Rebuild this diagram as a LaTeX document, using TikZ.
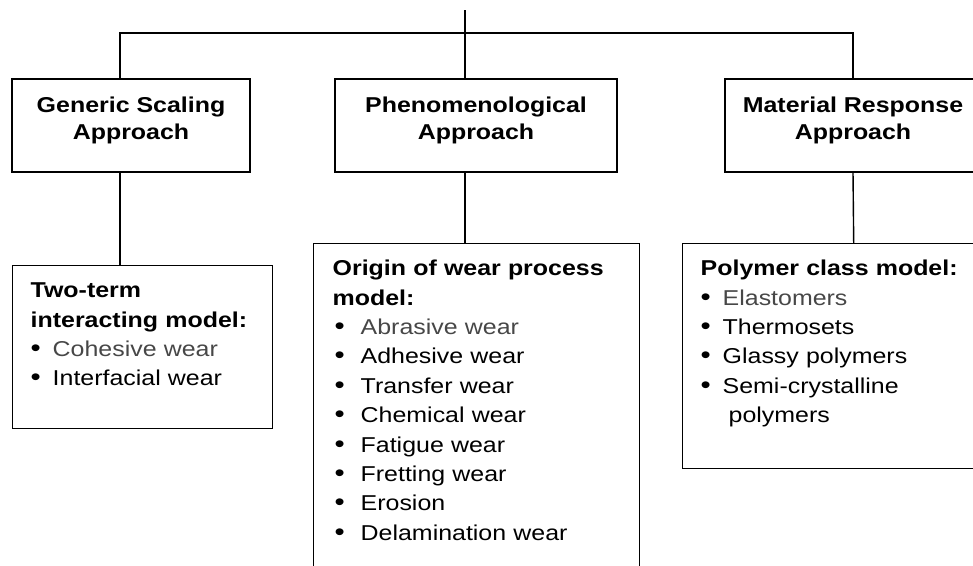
\documentclass[tikz,border=0pt]{standalone}
\usepackage{fontspec}
\setmainfont[FakeStretch=1.16]{Liberation Sans}
\usetikzlibrary{positioning}

\colorlet{pale}{black!72}
\newcommand{\bigbul}{{\fontsize{25}{29.4}\selectfont\textbullet}}
\newcommand{\bul}[1]{\makebox[22pt][l]{\bigbul}#1}
\newcommand{\bulw}[1]{\makebox[28pt][l]{\hspace{2pt}\bigbul}#1}

\begin{document}
\begin{tikzpicture}[
        x=1pt, y=-1pt,
        line width=1.4pt,
        approach/.style={
            rectangle,
            draw,
            minimum height=93pt,
            inner sep=0pt
        },
        head/.style={
            align=center,
            inner sep=0pt,
            font=\bfseries\fontsize{21.5}{27}\selectfont
        },
        model/.style={
            rectangle,
            draw,
            anchor=north west,
            align=left,
            inner ysep=0pt,
            inner xsep=18pt,
            text height=32pt,
            font=\fontsize{21.5}{29.4}\selectfont
        }
    ]

    \useasboundingbox (0,0) rectangle (973,565);
    \clip (0,0) rectangle (973,565);

    % Approach row
    \node[approach, minimum width=238pt] (generic) at (131,125.5) {};
    \node[approach, minimum width=282pt] (phenom) at (476,125.5) {};
    \node[approach, minimum width=256pt] (material) at (853,125.5) {};

    \node[head] (genericlbl) at ([yshift=5.5pt]generic.center) {Generic Scaling\\Approach};
    \node[head] (phenomlbl) at ([yshift=5.5pt]phenom.center) {Phenomenological\\Approach};
    \node[head] (materiallbl) at ([yshift=5.5pt]material.center) {Material Response\\Approach};

    % Model boxes
    \node[model, text width=224pt, text depth=131pt] (twoterm) at (12,265)
        {\textbf{Two-term}\\
         \textbf{interacting model:}\\
         \bul{\textcolor{pale}{Cohesive wear}}\\
         \bul{Interfacial wear}};

    \node[model, inner xsep=19pt, text width=288pt, text depth=400pt] (origin) at (313,243)
        {\textbf{Origin of wear process}\\
         \textbf{model:}\\
         \bulw{\textcolor{pale}{Abrasive wear}}\\
         \bulw{Adhesive wear}\\
         \bulw{Transfer wear}\\
         \bulw{Chemical wear}\\
         \bulw{Fatigue wear}\\
         \bulw{Fretting wear}\\
         \bulw{Erosion}\\
         \bulw{Delamination wear}};

    \node[model, text width=306pt, text depth=193pt] (polymer) at (682,243)
        {\textbf{Polymer class model:}\\
         \bul{\textcolor{pale}{Elastomers}}\\
         \bul{Thermosets}\\
         \bul{Glassy polymers}\\
         \bul{Semi-crystalline}\\
         \hspace*{28pt}polymers};

    % Connectors
    \coordinate (top) at (465,10);
    \coordinate (hub) at (465,33);
    \coordinate (gdrop) at ([xshift=-11pt]generic.south);

    \draw (top) -- (top |- phenom.north);
    \draw (gdrop |- generic.north) |- (hub) -| (material.north);

    \draw (gdrop) -- (gdrop |- twoterm.north);
    \draw (top |- phenom.south) -- (top |- origin.north);
    \draw (material.south) -- (polymer.north);

\end{tikzpicture}
\end{document}
